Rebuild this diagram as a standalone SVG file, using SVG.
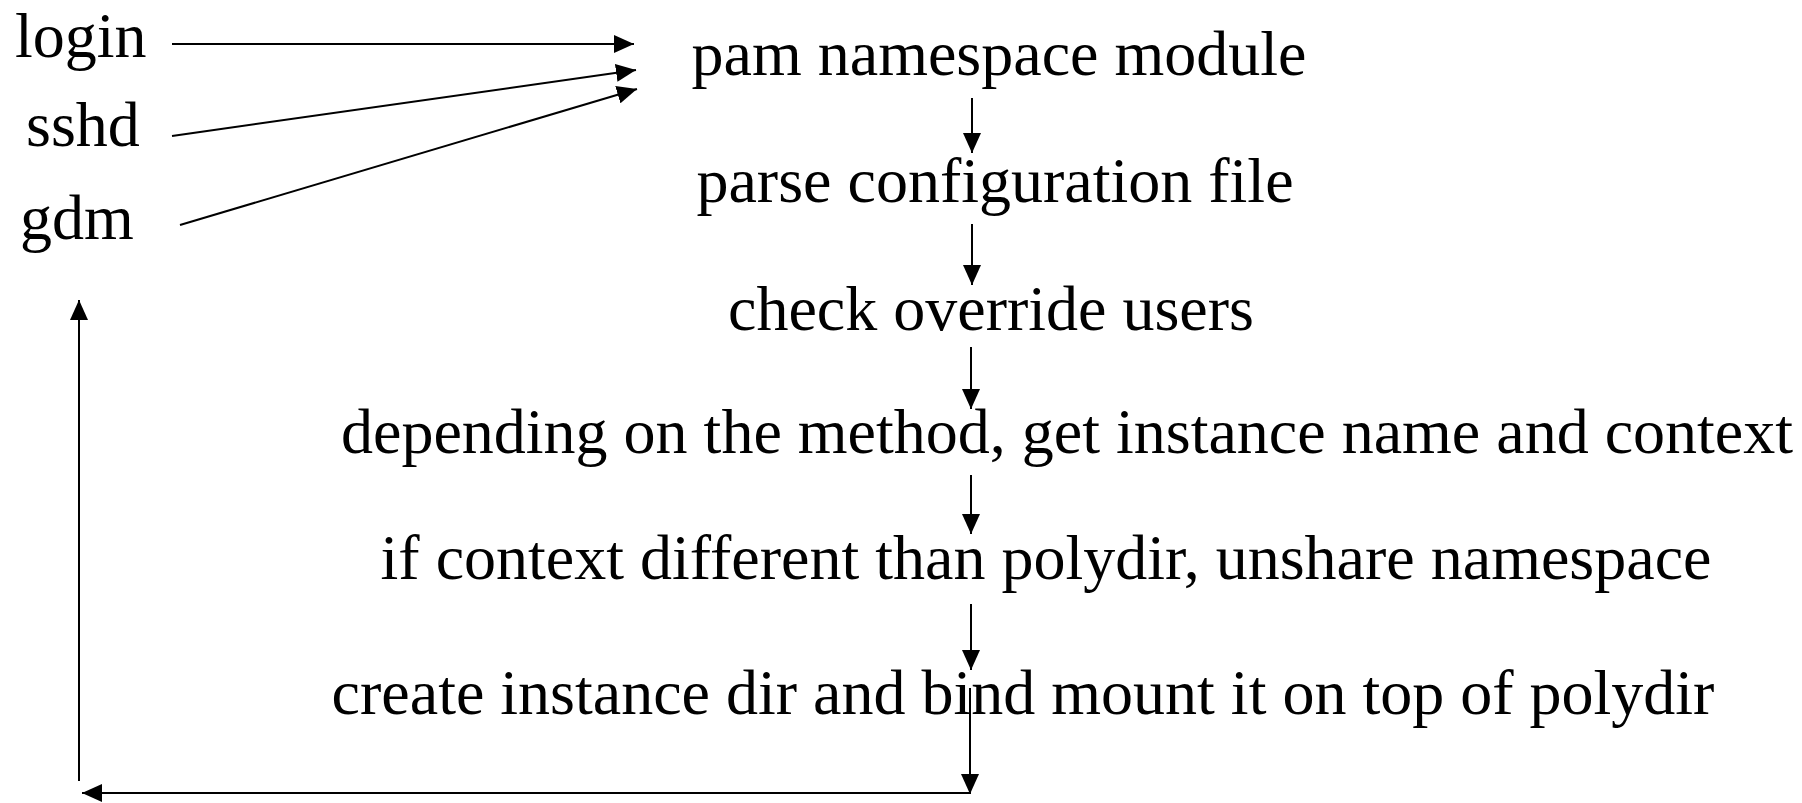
<svg xmlns="http://www.w3.org/2000/svg" width="1802" height="803" viewBox="0 0 1802 803">
<style>
text{font-family:"Liberation Serif","Times New Roman",serif;font-size:64px;fill:#000}
.c{text-anchor:middle}
.e{stroke:#000;stroke-width:2;fill:none;marker-end:url(#ah)}
</style>
<defs>
<marker id="ah" viewBox="0 0 20 18" refX="20" refY="9" markerWidth="20" markerHeight="18" markerUnits="userSpaceOnUse" orient="auto">
<path d="M0,0 L20,9 L0,18 Z" fill="#000"/>
</marker>
</defs>
<rect width="1802" height="803" fill="#fff"/>
<g id="login"><text x="15" y="57">login</text></g>
<g id="sshd"><text x="26" y="146">sshd</text></g>
<g id="gdm"><text x="20" y="239">gdm</text></g>
<g id="pam"><text class="c" x="999" y="75">pam namespace module</text></g>
<g id="parse"><text class="c" x="995" y="202">parse configuration file</text></g>
<g id="check"><text class="c" x="991" y="330">check override users</text></g>
<g id="depending"><text class="c" x="1067" y="453">depending on the method, get instance name and context</text></g>
<g id="unshare"><text class="c" x="1046" y="579">if context different than polydir, unshare namespace</text></g>
<g id="create"><text class="c" x="1023" y="714">create instance dir and bind mount it on top of polydir</text></g>
<g id="connectors">
<line class="e" x1="172" y1="44" x2="634" y2="44"/>
<line class="e" x1="172" y1="136" x2="636" y2="70"/>
<line class="e" x1="180" y1="225" x2="637" y2="89"/>
<line class="e" x1="972" y1="98" x2="972" y2="153"/>
<line class="e" x1="972" y1="224" x2="972" y2="285"/>
<line class="e" x1="971" y1="347" x2="971" y2="409"/>
<line class="e" x1="971" y1="475" x2="971" y2="534"/>
<line class="e" x1="971" y1="604" x2="971" y2="670"/>
<line class="e" x1="970" y1="688" x2="970" y2="794"/>
<line class="e" x1="970" y1="793" x2="82" y2="793"/>
<line class="e" x1="79" y1="781" x2="79" y2="300"/>
</g>
</svg>
